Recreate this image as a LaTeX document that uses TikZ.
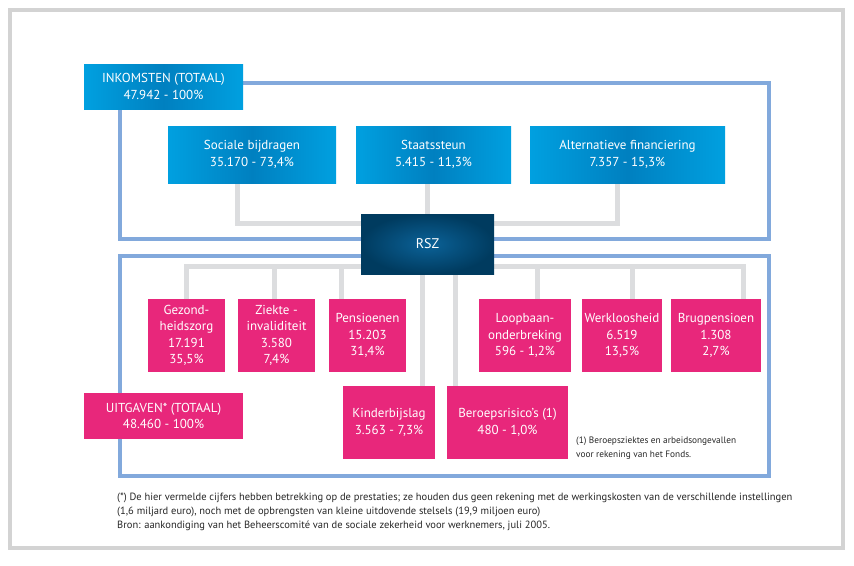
\documentclass[tikz,border=0pt]{standalone}
\usepackage{fontspec}
\setmainfont{PT Sans}
\usepackage{tikz}
\usetikzlibrary{backgrounds}
\definecolor{inblue}{HTML}{00A0E0}
\definecolor{inblueD}{HTML}{0080C0}
\definecolor{outpink}{HTML}{E8277B}
\definecolor{hubnavy}{HTML}{003B5F}
\definecolor{hubglow}{HTML}{0B6298}
\definecolor{framblue}{HTML}{82A9DC}
\definecolor{treegray}{HTML}{DCDDDF}
\definecolor{edgegray}{HTML}{D3D3D3}
\newcommand{\boxfont}{\fontsize{13}{16.5}\selectfont}
\newcommand{\notefont}{\fontsize{9.3}{14}\selectfont}
\newcommand{\srcfont}{\fontsize{10.5}{14}\selectfont}

\begin{document}
\begin{tikzpicture}[x=1pt, y=-1pt,
    inbox/.style={left color=inblue, right color=inblue, middle color=inblueD,
      text=white, font=\boxfont, align=center, inner sep=0pt},
    outbox/.style={fill=outpink, text=white, font=\boxfont, align=center, inner sep=0pt},
    hubbox/.style={inner color=hubglow, outer color=hubnavy, text=white,
      font=\fontsize{14}{16}\selectfont, inner sep=0pt,
      minimum width=133pt, minimum height=60pt},
    tree/.style={treegray, line width=5pt},
    frame/.style={framblue, line width=3.5pt},
    note/.style={font=\notefont, align=left, anchor=north west, inner sep=0pt, text=black!85}]
    \useasboundingbox (0,0) rectangle (854,565);
    \draw[edgegray, line width=4.5pt] (10,10) rectangle (843,548);

    % inkomsten
    \node[inbox, minimum width=159pt, minimum height=45pt] (ink) at (163.5,86.5)
        {INKOMSTEN (TOTAAL)\\47.942 - 100\%};
    \node[inbox, minimum width=168pt, minimum height=57pt] (soc) at (252,154.5)
        {Sociale bijdragen\\35.170 - 73,4\%};
    \node[inbox, minimum width=155pt, minimum height=57pt] (sta) at (433.5,154.5)
        {Staatssteun\\5.415 - 11,3\%};
    \node[inbox, minimum width=195pt, minimum height=57pt] (alt) at (627.5,154.5)
        {Alternatieve financiering\\7.357 - 15,3\%};

    \node[hubbox] (rsz) at (427.5,244) {RSZ};

    % uitgaven, row 1
    \node[outbox, minimum width=77pt, minimum height=73pt] (gez) at (186.5,335.5)
        {Gezond-\\heidszorg\\17.191\\35,5\%};
    \node[outbox, minimum width=77pt, minimum height=73pt] (zie) at (276.5,335.5)
        {Ziekte -\\invaliditeit\\3.580\\7,4\%};
    \node[outbox, minimum width=77pt, minimum height=73pt] (pen) at (367.5,335.5)
        {Pensioenen\\15.203\\31,4\%};
    \node[outbox, minimum width=92pt, minimum height=73pt] (loo) at (525,335.5)
        {Loopbaan-\\onderbreking\\596 - 1,2\%};
    \node[outbox, minimum width=80pt, minimum height=73pt] (wer) at (622,335.5)
        {Werkloosheid\\6.519\\13,5\%};
    \node[outbox, minimum width=90pt, minimum height=73pt] (bru) at (716,335.5)
        {Brugpensioen\\1.308\\2,7\%};
    % uitgaven, row 2
    \node[outbox, minimum width=92pt, minimum height=73pt] (kin) at (389,422.5)
        {Kinderbijslag\\3.563 - 7,3\%};
    \node[outbox, minimum width=121pt, minimum height=73pt] (ber) at (507.5,422.5)
        {Beroepsrisico’s (1)\\480 - 1,0\%};
    \node[outbox, minimum width=159pt, minimum height=46pt] (uit) at (163.5,416)
        {UITGAVEN* (TOTAAL)\\48.460 - 100\%};

    % notes
    \node[note] (fn1) at (576,437)
        {(1) Beroepsziektes en arbeidsongevallen\\voor rekening van het Fonds.};
    \node[note, font=\srcfont] (fn2) at (117,493)
        {(*) De hier vermelde cijfers hebben betrekking op de prestaties; ze houden dus geen rekening met de werkingskosten van de verschillende instellingen\\
         (1,6 miljard euro), noch met de opbrengsten van kleine uitdovende stelsels (19,9 miljoen euro)\\
         Bron: aankondiging van het Beheerscomité van de sociale zekerheid voor werknemers, juli 2005.};

    \begin{pgfonlayer}{background}
        % frames
        \draw[frame] (120,83) rectangle (769,239);
        \draw[frame] (120,256) rectangle (769,476);
        % tree above
        \coordinate (upbus) at (427.5,223);
        \draw[tree] ([xshift=-15pt]soc.south) |- (upbus);
        \draw[tree] ([xshift=-10pt]alt.south) |- (upbus);
        \draw[tree] (sta.south -| rsz) -- (rsz);
        % tree below
        \coordinate (lowbus) at (427.5,266);
        \draw[tree] (gez.north) |- (lowbus);
        \draw[tree] ([xshift=-2pt]zie.north) |- (lowbus);
        \draw[tree] ([xshift=-26pt]pen.north) |- (lowbus);
        \draw[tree] ([xshift=12pt]loo.north) |- (lowbus);
        \draw[tree] ([xshift=10pt]wer.north) |- (lowbus);
        \draw[tree] ([xshift=27pt]bru.north) |- (lowbus);
        \draw[tree] ([xshift=33pt]kin.north) -- ([xshift=33pt]kin.north |- rsz.south);
        \draw[tree] ([xshift=-52pt]ber.north) -- ([xshift=-52pt]ber.north |- rsz.south);
    \end{pgfonlayer}
\end{tikzpicture}
\end{document}
